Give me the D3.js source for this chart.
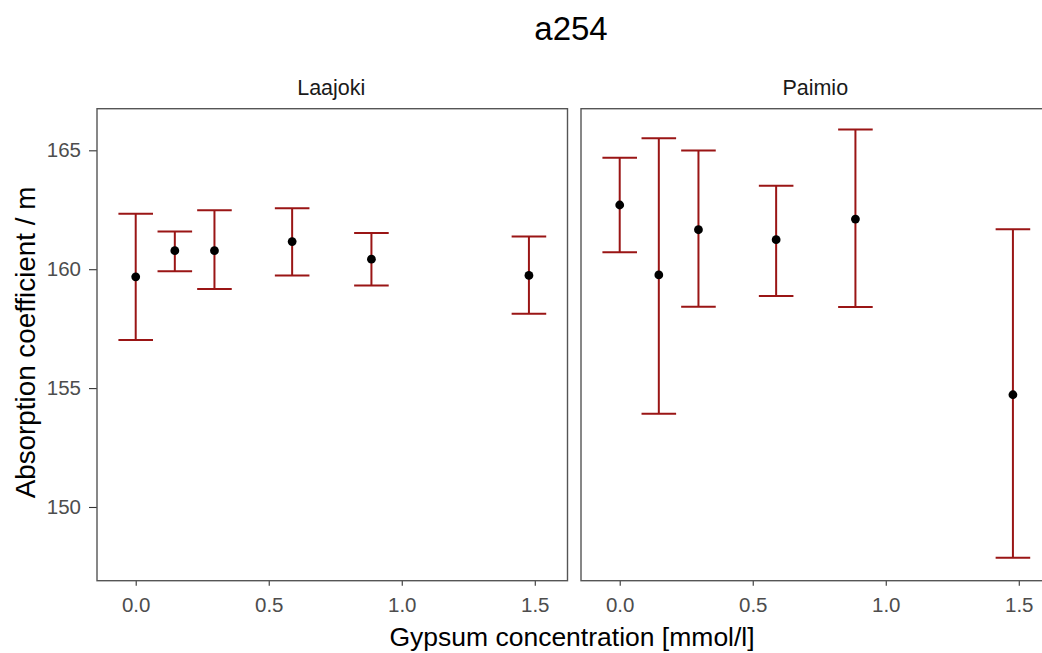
<!DOCTYPE html>
<html><head><meta charset="utf-8">
<script src="https://cdn.jsdelivr.net/npm/d3@7"></script>
<style>
html,body{margin:0;padding:0;background:#fff;}
svg{display:block;font-family:"Liberation Sans",Arial,sans-serif;}
</style></head>
<body><svg id="chart" width="1042" height="653"></svg>
<script>
const panels = ["Laajoki", "Paimio"];
const concentration = [0, 0.147, 0.296, 0.588, 0.886, 1.478];
const laajokiMean  = [159.68, 160.78, 160.78, 161.16, 160.42, 159.74];
const laajokiLower = [157.02, 159.91, 159.17, 159.74, 159.31, 158.13];
const laajokiUpper = [162.33, 161.59, 162.48, 162.56, 161.52, 161.38];
const paimioMean   = [162.70, 159.76, 161.66, 161.24, 162.11, 154.72];
const paimioLower  = [160.71, 153.92, 158.42, 158.87, 158.41, 147.86];
const paimioUpper  = [164.69, 165.51, 164.99, 163.51, 165.87, 161.68];
const yTicks = [150, 155, 160, 165];
const xTicks = [0, 0.5, 1.0, 1.5];
const capWidth = 0.13;

const series = {
  Laajoki: {mean: laajokiMean, lower: laajokiLower, upper: laajokiUpper},
  Paimio:  {mean: paimioMean,  lower: paimioLower,  upper: paimioUpper}
};

const svg = d3.select("#chart");
const panelTop = 108.7, panelH = 472, panelW = 470.5;
const panelLefts = [97, 581];
const errColor = "#9A1515";

const x = d3.scaleLinear().domain([-0.1455, 1.623]).range([0, panelW]);
const y = d3.scaleLinear().domain([146.9, 166.75]).range([panelH, 0]);

// title
svg.append("text").attr("x", 571).attr("y", 40).attr("text-anchor", "middle")
  .attr("font-size", 33).attr("fill", "#000").text("a254");

panels.forEach((name, pi) => {
  const g = svg.append("g").attr("transform", `translate(${panelLefts[pi]},${panelTop})`);
  const d = series[name];
  const rows = concentration.map((c, i) => ({c, m: d.mean[i], lo: d.lower[i], hi: d.upper[i]}));

  // strip label
  g.append("text").attr("x", panelW / 2 - 1).attr("y", -13.5).attr("text-anchor", "middle")
    .attr("font-size", 21.5).attr("fill", "#1A1A1A").text(name);

  // x axis
  const xa = g.append("g").attr("transform", `translate(0,${panelH})`)
    .call(d3.axisBottom(x).tickValues(xTicks).tickFormat(d3.format(".1f")).tickSize(5).tickPadding(12));
  xa.select(".domain").remove();
  xa.selectAll(".tick line").attr("stroke", "#333").attr("stroke-width", 1.1);
  xa.selectAll(".tick text").attr("font-size", 20.5).attr("fill", "#4D4D4D").attr("font-family", "Liberation Sans, Arial, sans-serif");

  if (pi === 0) {
    const ya = g.append("g")
      .call(d3.axisLeft(y).tickValues(yTicks).tickSize(8).tickPadding(8));
    ya.select(".domain").remove();
    ya.selectAll(".tick line").attr("stroke", "#333").attr("stroke-width", 1.1);
    ya.selectAll(".tick text").attr("font-size", 20.5).attr("fill", "#4D4D4D").attr("font-family", "Liberation Sans, Arial, sans-serif");
  }

  const plot = g.append("g");
  // error bars
  const eb = plot.selectAll("g.eb").data(rows).enter().append("g").attr("class", "eb")
    .attr("stroke", errColor).attr("stroke-width", 2).attr("fill", "none");
  eb.append("line").attr("x1", r => x(r.c)).attr("x2", r => x(r.c)).attr("y1", r => y(r.lo)).attr("y2", r => y(r.hi));
  eb.append("line").attr("x1", r => x(r.c - capWidth / 2)).attr("x2", r => x(r.c + capWidth / 2)).attr("y1", r => y(r.hi)).attr("y2", r => y(r.hi));
  eb.append("line").attr("x1", r => x(r.c - capWidth / 2)).attr("x2", r => x(r.c + capWidth / 2)).attr("y1", r => y(r.lo)).attr("y2", r => y(r.lo));
  // points
  plot.selectAll("circle").data(rows).enter().append("circle")
    .attr("cx", r => x(r.c)).attr("cy", r => y(r.m)).attr("r", 4.4).attr("fill", "#000");

  // panel border
  g.append("rect").attr("x", 0).attr("y", 0).attr("width", panelW).attr("height", panelH)
    .attr("fill", "none").attr("stroke", "#555").attr("stroke-width", 1.4);
});

// axis titles
svg.append("text").attr("x", 572).attr("y", 646).attr("text-anchor", "middle")
  .attr("font-size", 26.5).attr("fill", "#000").text("Gypsum concentration [mmol/l]");
svg.append("text").attr("transform", "translate(35,342.5) rotate(-90)").attr("text-anchor", "middle")
  .attr("font-size", 27.8).attr("fill", "#000").text("Absorption coefficient / m");
</script></body></html>
